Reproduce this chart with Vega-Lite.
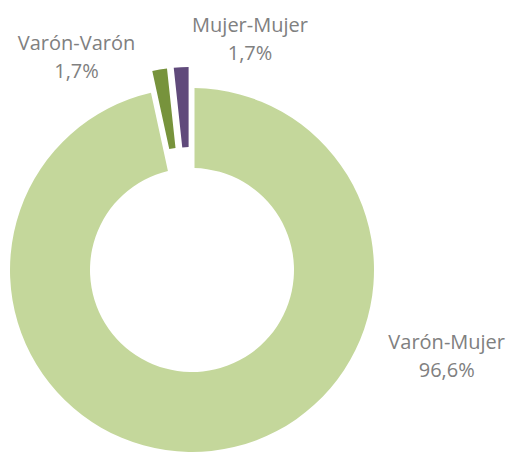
{
  "$schema": "https://vega.github.io/schema/vega-lite/v6.json",
  "width": 513,
  "height": 452,
  "autosize": "none",
  "padding": 0,
  "background": "white",
  "config": {"view": {"stroke": null}},
  "data": {
    "values": [
      {"cat": "Varón-Mujer", "pct": 96.6},
      {"cat": "Varón-Varón", "pct": 1.7},
      {"cat": "Mujer-Mujer", "pct": 1.7}
    ]
  },
  "transform": [
    {"stack": "pct", "groupby": [], "as": ["s0", "s1"]},
    {"calculate": "[datum.cat, replace(format(datum.pct, '.1f'), '.', ',') + '%']", "as": "lbl"}
  ],
  "encoding": {
    "theta": {"field": "s0", "type": "quantitative", "scale": {"domain": [0, 100], "range": [0, 6.283185307]}},
    "theta2": {"field": "s1"},
    "color": {
      "field": "cat", "type": "nominal", "legend": null,
      "scale": {"domain": ["Varón-Mujer", "Varón-Varón", "Mujer-Mujer"], "range": ["#c4d79b", "#77933c", "#604a7b"]}
    }
  },
  "layer": [
    {
      "transform": [{"filter": "datum.cat == 'Varón-Mujer'"}],
      "mark": {"type": "arc", "x": 192, "y": 270, "radius": 182, "radius2": 102, "padAngle": 0.024}
    },
    {
      "transform": [{"filter": "datum.cat != 'Varón-Mujer'"}],
      "mark": {"type": "arc", "x": 192, "y": 270, "radius": 203, "radius2": 123, "padAngle": 0.0286}
    },
    {
      "transform": [{"filter": "datum.cat == 'Varón-Mujer'"}],
      "mark": {"type": "text", "x": 192, "y": 270, "dx": 254.7, "dy": 79, "font": "Open Sans", "fontSize": 20, "lineHeight": 28, "color": "#808080", "align": "center", "baseline": "alphabetic"},
      "encoding": {"theta": null, "theta2": null, "color": null, "text": {"field": "lbl"}}
    },
    {
      "transform": [{"filter": "datum.cat == 'Varón-Varón'"}],
      "mark": {"type": "text", "x": 192, "y": 270, "dx": -115.5, "dy": -220, "font": "Open Sans", "fontSize": 20, "lineHeight": 28, "color": "#808080", "align": "center", "baseline": "alphabetic"},
      "encoding": {"theta": null, "theta2": null, "color": null, "text": {"field": "lbl"}}
    },
    {
      "transform": [{"filter": "datum.cat == 'Mujer-Mujer'"}],
      "mark": {"type": "text", "x": 192, "y": 270, "dx": 58, "dy": -238, "font": "Open Sans", "fontSize": 20, "lineHeight": 28, "color": "#808080", "align": "center", "baseline": "alphabetic"},
      "encoding": {"theta": null, "theta2": null, "color": null, "text": {"field": "lbl"}}
    }
  ]
}
